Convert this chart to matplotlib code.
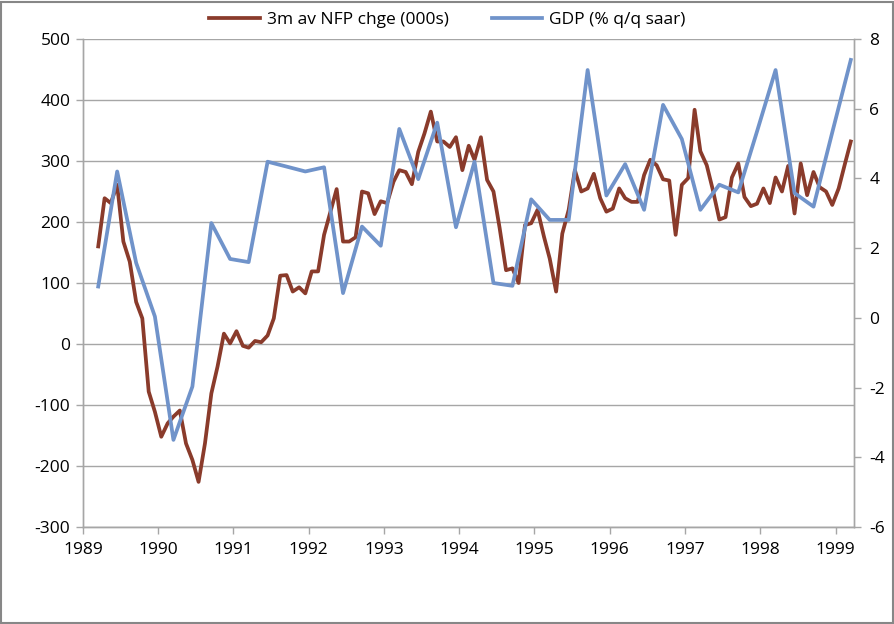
import matplotlib
matplotlib.use("Agg")
import matplotlib.pyplot as plt
import matplotlib.dates as mdates
import matplotlib.patches as patches
import pandas as pd

# 3m average nonfarm payroll change (000s), monthly Mar 1989 - Mar 1999
nfp = [160, 239, 231, 261, 168, 135, 69, 42, -78, -111,
       -152, -130, -119, -109, -163, -190, -226, -163, -81, -37,
       17, 1, 21, -3, -6, 5, 3, 14, 42, 112,
       113, 86, 93, 83, 119, 119, 179, 217, 254, 168,
       168, 175, 250, 247, 213, 234, 231, 266, 285, 282,
       262, 315, 345, 381, 332, 332, 323, 339, 285, 325,
       302, 339, 269, 250, 190, 121, 124, 100, 195, 198,
       220, 176, 140, 86, 181, 220, 285, 250, 255, 279,
       239, 217, 222, 255, 239, 233, 233, 277, 302, 293,
       270, 268, 179, 261, 272, 384, 316, 293, 252, 204,
       208, 273, 296, 241, 226, 230, 255, 231, 273, 250,
       292, 214, 296, 244, 282, 257, 250, 228, 255, 296,
       332]

# GDP % q/q saar, quarterly Q1 1989 - Q1 1999
gdp = [0.9, 4.2, 1.58, 0.04, -3.5, -1.97, 2.72, 1.69, 1.6, 4.48,
       4.34, 4.2, 4.32, 0.71, 2.62, 2.07, 5.42, 3.98, 5.6, 2.6,
       4.48, 1.0, 0.92, 3.4, 2.81, 2.81, 7.11, 3.51, 4.41, 3.1,
       6.11, 5.13, 3.1, 3.82, 3.6, 5.35, 7.11, 3.58, 3.19, 5.32,
       7.4]

nfp_label = "3m av NFP chge (000s)"
gdp_label = "GDP (% q/q saar)"

# points sit mid-month, as on an Excel date axis
mid = pd.Timedelta(days=15)
nfp_dates = pd.date_range("1989-03-01", periods=len(nfp), freq="MS") + mid
gdp_dates = pd.date_range("1989-03-01", periods=len(gdp), freq="3MS") + mid

brown = "#8A3B2B"
blue = "#7093CA"
grey = "#A6A6A6"

plt.rcParams["font.family"] = ["Open Sans", "DejaVu Sans"]
plt.rcParams["axes.unicode_minus"] = False

fig = plt.figure(figsize=(8.95, 6.24), dpi=100)
ax = fig.add_axes([0.0927, 0.1554, 0.8616, 0.7821])
ax2 = ax.twinx()

ax.plot(nfp_dates, nfp, color=brown, lw=2.7, label=nfp_label, solid_joinstyle="round")
ax2.plot(gdp_dates, gdp, color=blue, lw=2.7, label=gdp_label, solid_joinstyle="round")

ax.set_xlim(pd.Timestamp("1989-01-01"), pd.Timestamp("1999-04-01"))
ax.set_ylim(-300, 500)
ax.set_yticks(range(-300, 501, 100))
ax2.set_ylim(-6, 8)
ax2.set_yticks(range(-6, 9, 2))

ax.xaxis.set_major_locator(mdates.YearLocator())
ax.xaxis.set_major_formatter(mdates.DateFormatter("%Y"))

ax.grid(axis="y", color=grey, lw=1.0)
ax.set_axisbelow(True)

for a in (ax, ax2):
    a.spines["top"].set_visible(False)
    for s in ("left", "right", "bottom"):
        a.spines[s].set_color(grey)
        a.spines[s].set_linewidth(1.0)
    a.tick_params(colors="#000000", labelsize=12.5, length=5, width=1.0, direction="out")
    a.tick_params(axis="both", color=grey)
ax.tick_params(axis="x", pad=6)
ax.tick_params(axis="y", pad=4)
ax2.tick_params(axis="y", pad=6)

h1, l1 = ax.get_legend_handles_labels()
h2, l2 = ax2.get_legend_handles_labels()
fig.legend(h1 + h2, l1 + l2, loc="center", bbox_to_anchor=(0.5, 0.968), ncol=2,
           frameon=False, fontsize=12.5, handlelength=2.9, columnspacing=2.5,
           handletextpad=0.4)

# outer chart border
fig.add_artist(patches.Rectangle((0.001, 0.002), 0.997, 0.995, transform=fig.transFigure,
                                 fill=False, edgecolor="#878787", lw=1.5))

fig.savefig("out.png", dpi=100)
